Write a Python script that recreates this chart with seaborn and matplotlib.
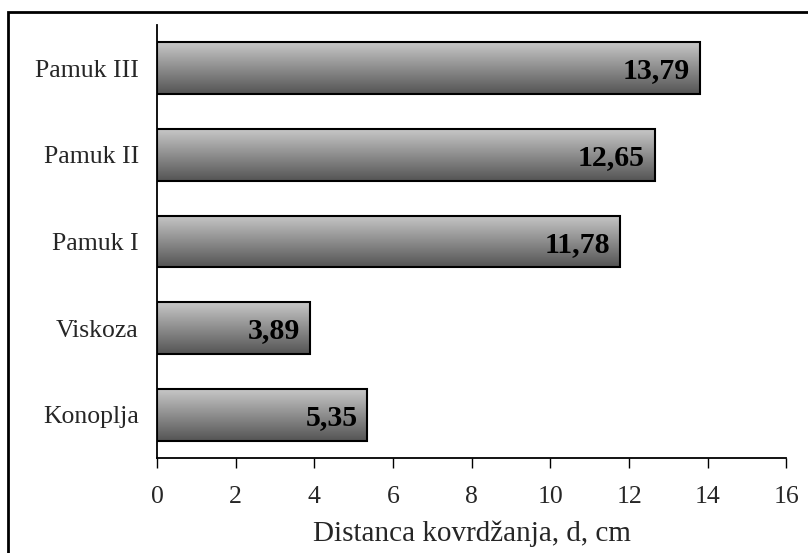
import numpy as np
import pandas as pd
import matplotlib
matplotlib.use("Agg")
import matplotlib.pyplot as plt
from matplotlib.patches import Rectangle
import seaborn as sns

# Curling distance per fibre type
categories = ["Pamuk III", "Pamuk II", "Pamuk I", "Viskoza", "Konoplja"]
values = [13.79, 12.65, 11.78, 3.89, 5.35]
xticks = [0, 2, 4, 6, 8, 10, 12, 14, 16]
xlabel = "Distanca kovrdžanja, d, cm"

sns.set_style("white")
plt.rcParams["font.family"] = ["Liberation Serif", "DejaVu Serif"]

df = pd.DataFrame({"kategorija": categories, "d": values})

W, H = 808, 553
fig = plt.figure(figsize=(W / 100, H / 100), dpi=100)
ax = fig.add_axes([157 / W, 1 - 458 / H, 629.5 / W, 433 / H])

sns.barplot(data=df, x="d", y="kategorija", orient="h", width=0.6,
            color="#999999", edgecolor="black", linewidth=1.5, ax=ax)

# vertical gray gradient inside each bar, light at top, dark at bottom
grad = np.linspace(0.78, 0.33, 256).reshape(-1, 1)
for p in ax.patches:
    x0, y0 = p.get_x(), p.get_y()
    w, h = p.get_width(), p.get_height()
    im = ax.imshow(grad, cmap="gray", vmin=0, vmax=1, aspect="auto",
                   origin="upper", extent=(x0, x0 + w, y0 + h, y0),
                   interpolation="bilinear", zorder=2)
    im.set_clip_path(p)
    p.set_facecolor("none")
    p.set_zorder(3)

# value labels at the end of each bar
for i, v in enumerate(values):
    ax.text(v - 0.25, i + 0.03, f"{v:.2f}".replace(".", ","), ha="right",
            va="center", fontsize=21.5, fontweight="bold", color="black",
            zorder=4)

ax.set_xlim(0, 16)
ax.set_ylim(4.5, -0.5)
ax.set_xticks(xticks)
ax.set_xticklabels([str(t) for t in xticks], fontsize=18.5)
ax.tick_params(axis="y", labelsize=18.5, length=0, pad=13, left=False)
ax.tick_params(axis="x", bottom=True, length=7, width=1, color="black",
               pad=13)
ax.set_xlabel(xlabel, fontsize=21, labelpad=9)
ax.set_ylabel("")

for s in ["top", "right"]:
    ax.spines[s].set_visible(False)
for s in ["left", "bottom"]:
    ax.spines[s].set_color("black")
    ax.spines[s].set_linewidth(1.3)

# outer chart frame
fig.patches.append(Rectangle((8 / W, -0.1), 1.2, 1 - 12 / H + 0.1,
                             transform=fig.transFigure, fill=False,
                             edgecolor="black", linewidth=2))

fig.savefig("out.png", dpi=100)
